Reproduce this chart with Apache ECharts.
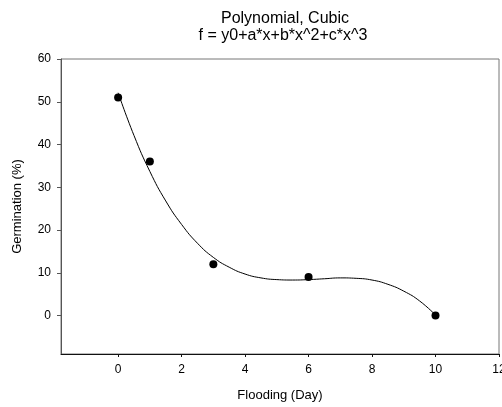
<!DOCTYPE html>
<html>
<head>
<meta charset="utf-8">
<script src="https://cdn.jsdelivr.net/npm/echarts@6/dist/echarts.min.js"></script>
<style>
html,body{margin:0;padding:0;background:#fff;}
#chart{width:502px;height:407px;}
</style>
</head>
<body>
<div id="chart"></div>
<script>
// Observed data points
const floodingDays = [0, 1, 3, 6, 10];
const germinationPct = [51, 36, 12, 9, 0];

// Fitted cubic curve
const curveDays = [0, 0.5, 1, 1.5, 2, 2.5, 3, 3.5, 4, 4.5, 5, 5.5, 6, 6.5, 7, 7.5, 8, 8.5, 9, 9.5, 10];
const curveGermination = [52.1, 42.1, 33.7, 26.8, 21.3, 16.9, 13.6, 11.3, 9.7, 8.8, 8.4, 8.3, 8.4, 8.6, 8.8, 8.7, 8.3, 7.3, 5.7, 3.4, 0.1];

// Tick labels
const xTicks = [0, 2, 4, 6, 8, 10, 12];
const yTicks = [0, 10, 20, 30, 40, 50, 60];

const titleLine1 = 'Polynomial, Cubic';
const titleLine2 = 'f = y0+a*x+b*x^2+c*x^3';
const xName = 'Flooding (Day)';
const yName = 'Germination (%)';

const FONT = '"Liberation Sans", Arial, sans-serif';

const chart = echarts.init(document.getElementById('chart'), null, {renderer: 'canvas'});

const pointData = floodingDays.map((d, i) => [d, germinationPct[i]]);
const curveData = curveDays.map((d, i) => [d, curveGermination[i]]);

chart.setOption({
  animation: false,
  backgroundColor: '#fff',
  title: [
    {text: titleLine1, left: 280, top: 6, textAlign: 'center',
     textStyle: {fontFamily: FONT, fontSize: 16, lineHeight: 16, fontWeight: 'normal', color: '#000'}},
    {text: titleLine2, left: 278, top: 23, textAlign: 'center',
     textStyle: {fontFamily: FONT, fontSize: 16, lineHeight: 16, fontWeight: 'normal', color: '#000'}}
  ],
  grid: {
    left: 61, right: 3, top: 59, bottom: 53,
    outerBoundsMode: 'none', containLabel: false,
    show: true, borderColor: '#777', borderWidth: 1, backgroundColor: 'transparent'
  },
  xAxis: {
    type: 'value', min: -1.8, max: 12,
    name: xName, nameLocation: 'middle', nameGap: 35,
    nameTextStyle: {fontFamily: FONT, fontSize: 13, color: '#000'},
    axisLine: {show: true, onZero: false, lineStyle: {color: '#111', width: 1}},
    axisTick: {show: true, inside: false, length: 3, customValues: xTicks, lineStyle: {color: '#111'}},
    axisLabel: {customValues: xTicks, margin: 10, fontFamily: FONT, fontSize: 12, color: '#000',
                showMinLabel: true, showMaxLabel: true, hideOverlap: false},
    splitLine: {show: false}
  },
  yAxis: {
    type: 'value', min: -9, max: 60,
    name: yName, nameLocation: 'middle', nameGap: 37,
    nameTextStyle: {fontFamily: FONT, fontSize: 13, color: '#000'},
    axisLine: {show: true, onZero: false, lineStyle: {color: '#555', width: 1}},
    axisTick: {show: true, inside: false, length: 4, customValues: yTicks, lineStyle: {color: '#555'}},
    axisLabel: {customValues: yTicks, margin: 10, fontFamily: FONT, fontSize: 12, color: '#000'},
    splitLine: {show: false}
  },
  series: [
    {
      type: 'line', data: curveData, smooth: true, showSymbol: false,
      lineStyle: {color: '#000', width: 1}, z: 2
    },
    {
      type: 'scatter', data: pointData, symbol: 'circle', symbolSize: 8,
      itemStyle: {color: '#000', opacity: 1}, z: 3
    }
  ]
});
</script>
</body>
</html>
